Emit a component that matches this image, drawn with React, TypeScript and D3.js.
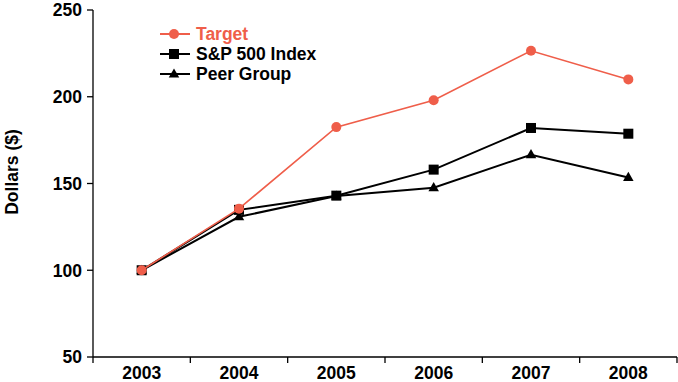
import React from "react";
import * as d3 from "d3";

const years = ["2003", "2004", "2005", "2006", "2007", "2008"];
const targetValues = [100, 135.5, 182.5, 198, 226.5, 210];
const spValues = [100, 134.8, 143, 158, 182, 178.7];
const peerValues = [100, 130.8, 142.8, 147.6, 166.6, 153.5];
const yTicks = [50, 100, 150, 200, 250];

const seriesNames = ["Target", "S&P 500 Index", "Peer Group"];
const seriesColors = ["#EF5E4A", "#000000", "#000000"];
const seriesShapes = ["circle", "square", "triangle"];

export default function App() {
  const W = 678, H = 382;
  const left = 93, right = 677, top = 10, bottom = 357;
  const x = d3.scaleBand<string>().domain(years).range([left, right]);
  const y = d3.scaleLinear().domain([50, 250]).range([bottom, top]);
  const allSeries = [targetValues, spValues, peerValues];
  const font = "'Liberation Sans', Arial, Helvetica, sans-serif";
  const fs = 17.5;

  const marker = (shape: string, cx: number, cy: number, color: string, key: string | number) => {
    if (shape === "circle") return <circle key={key} cx={cx} cy={cy} r={5} fill={color} />;
    if (shape === "square") return <rect key={key} x={cx - 5} y={cy - 5} width={10} height={10} fill={color} />;
    const sym = d3.symbol().type(d3.symbolTriangle).size(48)();
    return <path key={key} d={sym as string} transform={`translate(${cx},${cy + 0.5})`} fill={color} />;
  };

  const line = d3
    .line<number>()
    .x((_, i) => (x(years[i]) as number) + x.bandwidth() / 2)
    .y((d) => y(d));

  const order = [2, 1, 0];

  return (
    <svg width={W} height={H} style={{ position: "absolute", left: 0, top: 0 }} fontFamily={font}>
      <rect x={0} y={0} width={W} height={H} fill="#fff" />
      {/* y axis */}
      <line x1={left} x2={left} y1={top} y2={bottom} stroke="#000" strokeWidth={1.3} />
      {yTicks.map((t) => (
        <g key={t}>
          <line x1={left - 6} x2={left} y1={y(t)} y2={y(t)} stroke="#000" strokeWidth={1.3} />
          <text x={left - 11} y={y(t)} dy="0.36em" textAnchor="end" fontSize={fs} fontWeight="bold">
            {t}
          </text>
        </g>
      ))}
      {/* x axis */}
      <line x1={left} x2={right} y1={bottom} y2={bottom} stroke="#000" strokeWidth={1.3} />
      {[...years.map((yr) => x(yr) as number), right].map((px, i) => (
        <line key={i} x1={px} x2={px} y1={bottom} y2={bottom + 6} stroke="#000" strokeWidth={1.3} />
      ))}
      {years.map((yr) => (
        <text
          key={yr}
          x={(x(yr) as number) + x.bandwidth() / 2}
          y={378.5}
          textAnchor="middle"
          fontSize={fs}
          fontWeight="bold"
        >
          {yr}
        </text>
      ))}
      <text
        transform={`translate(12,172) rotate(-90)`}
        textAnchor="middle"
        dy="0.36em"
        fontSize={fs}
        fontWeight="bold"
      >
        Dollars ($)
      </text>
      {/* series */}
      {order.map((si) => (
        <g key={si}>
          <path d={line(allSeries[si]) as string} fill="none" stroke={seriesColors[si]} strokeWidth={si === 0 ? 1.6 : 2} />
          {allSeries[si].map((v, i) =>
            marker(seriesShapes[si], (x(years[i]) as number) + x.bandwidth() / 2, y(v), seriesColors[si], i)
          )}
        </g>
      ))}
      {/* legend */}
      {seriesNames.map((name, i) => {
        const ly = 34 + i * 20;
        return (
          <g key={name}>
            <line x1={160} x2={190} y1={ly} y2={ly} stroke={seriesColors[i]} strokeWidth={2} />
            {marker(seriesShapes[i], 174, ly, seriesColors[i], "m")}
            <text x={196} y={ly} dy="0.36em" fontSize={fs} fontWeight="bold" fill={seriesColors[i]}>
              {name}
            </text>
          </g>
        );
      })}
    </svg>
  );
}
